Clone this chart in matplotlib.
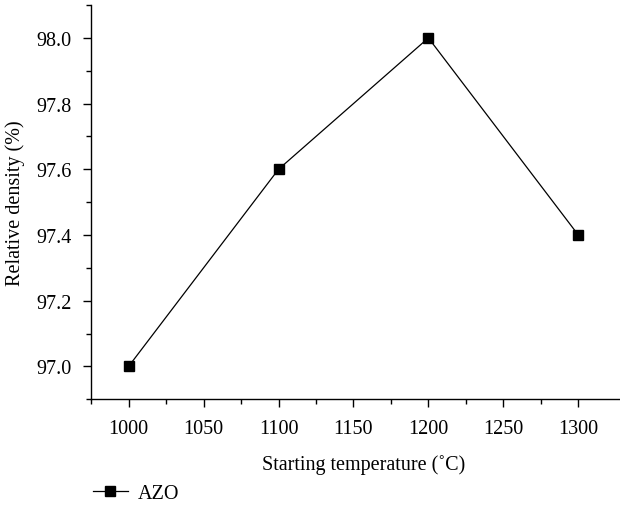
import numpy as np
import matplotlib.pyplot as plt
from matplotlib.ticker import MultipleLocator

# starting temperature (C) vs. relative density (%)
temps = [1000, 1100, 1200, 1300]
density = [97.0, 97.6, 98.0, 97.4]
series_name = "AZO"

plt.rcParams["font.family"] = ["Liberation Serif", "DejaVu Serif"]
plt.rcParams["font.size"] = 14.5

fig = plt.figure(figsize=(6.2, 5.06), dpi=100)
ax = fig.add_axes([0.147, 0.209, 0.88, 0.779])

ax.plot(temps, density, color="black", lw=0.9, marker="s", ms=7,
        label=series_name)

ax.set_xlim(975, 1339)
ax.set_ylim(96.9, 98.1)
ax.xaxis.set_major_locator(MultipleLocator(50))
ax.set_xticks(np.arange(975, 1325, 25), minor=True)
ax.yaxis.set_major_locator(MultipleLocator(0.2))
ax.yaxis.set_minor_locator(MultipleLocator(0.1))
ax.yaxis.set_major_formatter(lambda v, p: f"{v:.1f}")

for side in ("top", "right"):
    ax.spines[side].set_visible(False)
for side in ("left", "bottom"):
    ax.spines[side].set_linewidth(1.0)
ax.tick_params(which="major", direction="out", length=6, width=1.0, pad=8)
ax.tick_params(which="minor", direction="out", length=3.5, width=1.0)

ax.set_xlabel("Starting temperature (˚C)", labelpad=12)
ax.set_ylabel("Relative density (%)", labelpad=8)

ax.legend(loc="upper left", bbox_to_anchor=(0.003, -0.215), frameon=False,
          handlelength=1.75, handletextpad=0.5, borderaxespad=0,
          borderpad=0, handleheight=0.7)

fig.savefig("out.png", dpi=100)
